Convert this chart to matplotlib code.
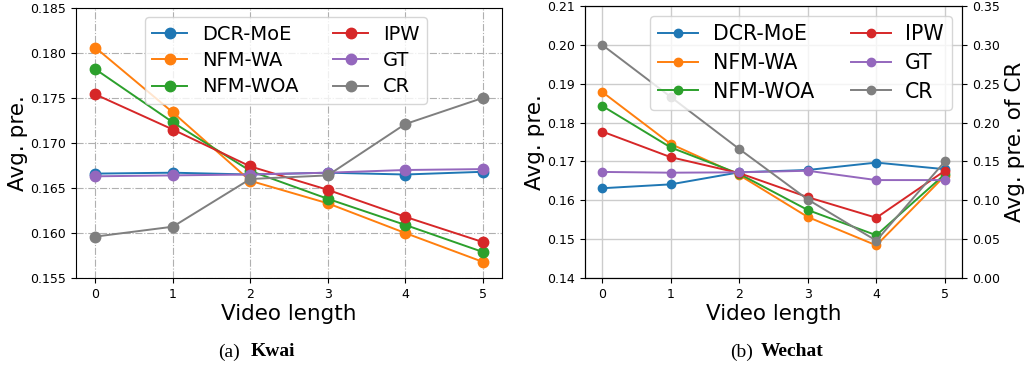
import numpy as np
import matplotlib
matplotlib.use('Agg')
import matplotlib.pyplot as plt
from matplotlib import rcParams

rcParams['font.family'] = 'DejaVu Sans'

video_len = [0, 1, 2, 3, 4, 5]
names = ['DCR-MoE', 'NFM-WA', 'NFM-WOA', 'IPW', 'GT', 'CR']
colors = ['#1f77b4', '#ff7f0e', '#2ca02c', '#d62728', '#9467bd', '#7f7f7f']

# Kwai
kwai_dcr = [0.1666, 0.1667, 0.1665, 0.1667, 0.1665, 0.1668]
kwai_wa = [0.1806, 0.1734, 0.1658, 0.1633, 0.1600, 0.1568]
kwai_woa = [0.1782, 0.1723, 0.1669, 0.1638, 0.1609, 0.1579]
kwai_ipw = [0.1754, 0.1715, 0.1674, 0.1648, 0.1618, 0.1590]
kwai_gt = [0.1663, 0.1664, 0.1665, 0.1667, 0.1670, 0.1671]
kwai_cr = [0.1596, 0.1607, 0.1660, 0.1664, 0.1721, 0.1750]

# Wechat (CR on the right axis)
wechat_dcr = [0.1631, 0.1641, 0.1672, 0.1678, 0.1697, 0.1680]
wechat_wa = [0.1879, 0.1745, 0.1665, 0.1557, 0.1484, 0.1663]
wechat_woa = [0.1843, 0.1736, 0.1668, 0.1575, 0.1510, 0.1667]
wechat_ipw = [0.1777, 0.1711, 0.1670, 0.1608, 0.1555, 0.1676]
wechat_gt = [0.1673, 0.1671, 0.1672, 0.1676, 0.1652, 0.1652]
wechat_cr = [0.300, 0.233, 0.166, 0.101, 0.048, 0.150]

fig = plt.figure(figsize=(10.31, 3.68), dpi=100)
W, H = 1031., 368.


def axes_px(l, t, r, b):
    return fig.add_axes([l / W, 1 - b / H, (r - l) / W, (b - t) / H])


# (a) Kwai
ax1 = axes_px(76, 8, 502, 278)
kwai = [kwai_dcr, kwai_wa, kwai_woa, kwai_ipw, kwai_gt, kwai_cr]
for n, c, d in zip(names, colors, kwai):
    ax1.plot(video_len, d, '-o', color=c, label=n, linewidth=1.4,
             markersize=7.5)
ax1.set_ylim(0.155, 0.185)
ax1.set_yticks(np.arange(0.155, 0.1851, 0.005))
ax1.set_xticks(video_len)
ax1.grid(True, linestyle='-.', color='#b0b0b0', linewidth=0.8)
ax1.set_axisbelow(True)
ax1.tick_params(labelsize=9)
ax1.set_xlabel('Video length', fontsize=15.5, labelpad=2)
ax1.set_ylabel('Avg. pre.', fontsize=15.5, labelpad=2)
ax1.legend(ncol=2, fontsize=14, loc='upper right',
           bbox_to_anchor=(0.824, 0.967), handlelength=1.8,
           columnspacing=1.8, borderpad=0.4, labelspacing=0.38,
           handletextpad=0.74, borderaxespad=0)

# (b) Wechat
ax2 = axes_px(585, 6, 962, 278)
wechat = [wechat_dcr, wechat_wa, wechat_woa, wechat_ipw, wechat_gt]
lines = []
for n, c, d in zip(names[:5], colors[:5], wechat):
    l, = ax2.plot(video_len, d, '-o', color=c, label=n, linewidth=1.4,
                  markersize=6)
    lines.append(l)
ax2.set_ylim(0.14, 0.21)
ax2.set_yticks(np.arange(0.14, 0.2101, 0.01))
ax2.set_xticks(video_len)
ax2.grid(True, color='#cccccc', linewidth=1.0)
ax2.set_axisbelow(True)
ax2.tick_params(labelsize=9)
ax2.set_xlabel('Video length', fontsize=15.5, labelpad=2)
ax2.set_ylabel('Avg. pre.', fontsize=15.5, labelpad=2)

ax3 = ax2.twinx()
l, = ax3.plot(video_len, wechat_cr, '-o', color=colors[5], label=names[5],
              linewidth=1.4, markersize=6)
lines.append(l)
ax3.set_ylim(0.0, 0.35)
ax3.set_yticks(np.arange(0.0, 0.3501, 0.05))
ax3.tick_params(labelsize=9)
ax3.set_ylabel('Avg. pre. of CR', fontsize=15.5, labelpad=4)
ax3.legend(lines, names, ncol=2, fontsize=14.8, loc='upper right',
           bbox_to_anchor=(0.973, 0.963), handlelength=1.95,
           columnspacing=1.77, borderpad=0.4, labelspacing=0.42,
           handletextpad=0.7, borderaxespad=0)

# captions
cy = 1 - 352 / H
fig.text(240 / W, cy, '(a)', family='Liberation Serif', fontsize=14,
         ha='right', va='center')
fig.text(251 / W, cy, 'Kwai', family='Liberation Serif', fontsize=14,
         fontweight='bold', ha='left', va='center')
fig.text(753 / W, cy, '(b)', family='Liberation Serif', fontsize=14,
         ha='right', va='center')
fig.text(761 / W, cy, 'Wechat', family='Liberation Serif', fontsize=14,
         fontweight='bold', ha='left', va='center')

plt.savefig('out.png', dpi=100)
